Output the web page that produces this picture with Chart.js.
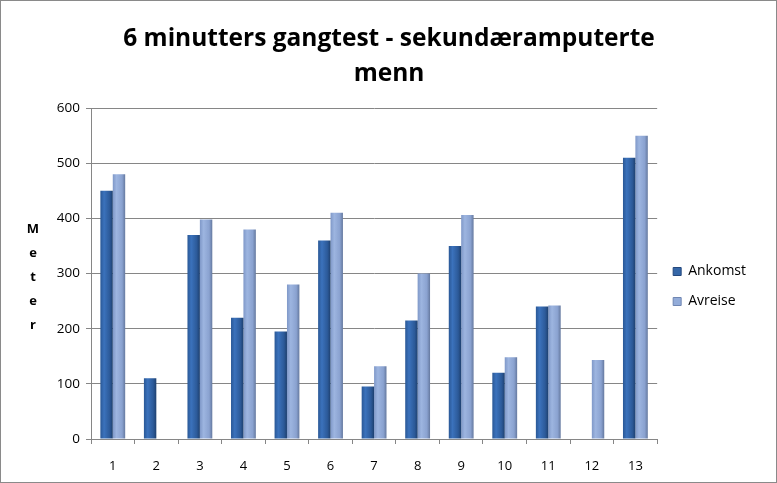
<!DOCTYPE html>
<html>
<head>
<meta charset="utf-8">
<script src="https://cdn.jsdelivr.net/npm/chart.js@4/dist/chart.umd.min.js"></script>
<style>
  body { margin: 0; background: #fff; }
  #wrap { width: 775px; height: 481px; border: 1px solid #8a8a8a; }
</style>
</head>
<body>
<div id="wrap"><canvas id="myChart1" width="775" height="481"></canvas></div>
<script>
const labels = ['1', '2', '3', '4', '5', '6', '7', '8', '9', '10', '11', '12', '13'];
const ankomst = [450, 110, 370, 220, 195, 360, 95, 215, 350, 120, 240, null, 510];
const avreise = [480, null, 398, 380, 280, 410, 132, 300, 406, 148, 242, 143, 550];
const yTicks = [0, 100, 200, 300, 400, 500, 600];

const catPct = 0.57;

// horizontal gradient per bar, like the old Excel bars
function barFill(stops, flat) {
    return function (c) {
        const chart = c.chart;
        if (!chart.chartArea || c.dataIndex === undefined) return flat;
        const x = chart.scales.x;
        const w = (x.width / labels.length) * catPct / 2;
        const mid = x.getPixelForValue(c.dataIndex);
        const left = c.datasetIndex === 0 ? mid - w : mid;
        const g = chart.ctx.createLinearGradient(left, 0, left + w, 0);
        g.addColorStop(0, stops[0]);
        g.addColorStop(0.3, stops[1]);
        g.addColorStop(0.75, stops[2]);
        g.addColorStop(1, stops[3]);
        return g;
    };
}

const yLabel = {
    id: 'yLabel',
    afterDraw(chart) {
        const ctx = chart.ctx;
        ctx.save();
        ctx.font = 'bold 13px "Open Sans"';
        ctx.fillStyle = '#000';
        ctx.textAlign = 'center';
        ctx.textBaseline = 'middle';
        'Meter'.split('').forEach((ch, i) => {
            ctx.fillText(ch, 32, 228 + i * 24);
        });
        ctx.restore();
    }
};

const ctx = document.getElementById('myChart1').getContext('2d');
const myChart = new Chart(ctx, {
    type: 'bar',
    data: {
        labels: labels,
        datasets: [{
            label: 'Ankomst',
            data: ankomst,
            backgroundColor: barFill(['#2A5896', '#3B72BC', '#2C5A99', '#1E406F'], '#3567A8'),
            borderWidth: 0,
            categoryPercentage: catPct,
            barPercentage: 1.0
        }, {
            label: 'Avreise',
            data: avreise,
            backgroundColor: barFill(['#7F98C8', '#9DB5E0', '#8AA2D0', '#65799F'], '#93ACD9'),
            borderWidth: 0,
            categoryPercentage: catPct,
            barPercentage: 1.0
        }]
    },
    options: {
        responsive: false,
        animation: false,
        layout: { padding: { left: 21, right: 20, top: 6, bottom: 0 } },
        plugins: {
            title: {
                display: true,
                text: ['6 minutters gangtest - sekundæramputerte', 'menn'],
                color: '#000',
                font: { family: 'Open Sans', size: 24.5, weight: 'bold', lineHeight: 1.45 },
                padding: { top: 14, bottom: 16 }
            },
            legend: {
                position: 'right',
                title: { display: true, text: '', font: { size: 12, lineHeight: 1 }, padding: { top: 0, bottom: 72 } },
                labels: {
                    color: '#000',
                    font: { family: 'Open Sans', size: 14 },
                    boxWidth: 8,
                    boxHeight: 8,
                    padding: 16,
                    generateLabels(chart) {
                        return chart.data.datasets.map((d, i) => ({
                            text: d.label,
                            fillStyle: i === 0 ? '#3567A8' : '#93ACD9',
                            strokeStyle: i === 0 ? '#24487d' : '#6f86b2',
                            fontColor: '#000',
                            lineWidth: 1,
                            datasetIndex: i
                        }));
                    }
                }
            },
            tooltip: { enabled: false }
        },
        scales: {
            x: {
                afterFit(scale) { scale.height = 43; },
                grid: { drawOnChartArea: false, drawTicks: true, tickLength: 5, color: '#868686' },
                border: { color: '#868686' },
                ticks: { color: '#000', font: { family: 'Open Sans', size: 13 }, padding: 14 }
            },
            y: {
                min: 0,
                max: 600,
                afterBuildTicks(scale) {
                    scale.ticks = yTicks.map(v => ({ value: v }));
                },
                afterFit(scale) { scale.width = 69; },
                grid: { color: '#868686', tickLength: 5 },
                border: { color: '#868686' },
                ticks: { color: '#000', font: { family: 'Open Sans', size: 13.5 }, padding: 6 }
            }
        }
    },
    plugins: [yLabel]
});
</script>
</body>
</html>
